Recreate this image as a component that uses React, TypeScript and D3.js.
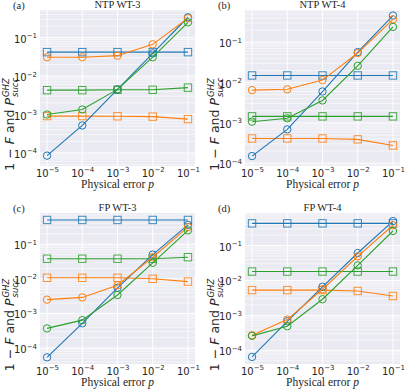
import React from 'react';
import * as d3 from 'd3';

const width = 407;
const height = 392;

const errorRates = [1e-5, 1e-4, 1e-3, 1e-2, 1e-1];
const xTickExps = [-5, -4, -3, -2, -1];

const seriesColors = ['#1f77b4', '#ff7f0e', '#2ca02c'];

// (a) NTP WT-3
const infidBlueA = [8.5e-5, 5.2e-4, 4.5e-3, 3.9e-2, 0.34];
const infidOrangeA = [3.1e-2, 3.1e-2, 3.4e-2, 6.7e-2, 0.32];
const infidGreenA = [1.0e-3, 1.35e-3, 4.5e-3, 3.1e-2, 0.25];
const succBlueA = [4.2e-2, 4.2e-2, 4.2e-2, 4.2e-2, 4.2e-2];
const succOrangeA = [9.1e-4, 9.1e-4, 9.0e-4, 8.8e-4, 7.6e-4];
const succGreenA = [4.3e-3, 4.3e-3, 4.4e-3, 4.4e-3, 5.0e-3];

// (b) NTP WT-4
const infidBlueB = [1.5e-4, 6.9e-4, 6.0e-3, 5.7e-2, 0.46];
const infidOrangeB = [6.5e-3, 6.8e-3, 1.15e-2, 5.4e-2, 0.37];
const infidGreenB = [1.07e-3, 1.3e-3, 3.6e-3, 2.6e-2, 0.24];
const succBlueB = [1.5e-2, 1.5e-2, 1.5e-2, 1.5e-2, 1.5e-2];
const succOrangeB = [4.1e-4, 4.1e-4, 4.1e-4, 3.9e-4, 2.75e-4];
const succGreenB = [1.45e-3, 1.45e-3, 1.45e-3, 1.45e-3, 1.45e-3];

// (c) FP WT-3
const infidBlueC = [5.4e-5, 5.2e-4, 5.5e-3, 5.0e-2, 0.36];
const infidOrangeC = [2.5e-3, 2.9e-3, 6.5e-3, 4.2e-2, 0.31];
const infidGreenC = [3.7e-4, 6.4e-4, 3.4e-3, 2.9e-2, 0.25];
const succBlueC = [0.5, 0.5, 0.5, 0.5, 0.5];
const succOrangeC = [1.07e-2, 1.07e-2, 1.07e-2, 1.0e-2, 8.3e-3];
const succGreenC = [3.8e-2, 3.8e-2, 3.8e-2, 3.8e-2, 4.2e-2];

// (d) FP WT-4
const infidBlueD = [6.5e-5, 6.8e-4, 6.6e-3, 6.1e-2, 0.5];
const infidOrangeD = [2.7e-4, 7.6e-4, 5.6e-3, 4.9e-2, 0.38];
const infidGreenD = [2.6e-4, 4.9e-4, 2.9e-3, 2.7e-2, 0.26];
const succBlueD = [0.43, 0.43, 0.43, 0.43, 0.43];
const succOrangeD = [5.3e-3, 5.3e-3, 5.3e-3, 5.0e-3, 3.6e-3];
const succGreenD = [1.8e-2, 1.8e-2, 1.8e-2, 1.8e-2, 1.8e-2];

const panelTitles = ['NTP WT-3', 'NTP WT-4', 'FP WT-3', 'FP WT-4'];
const panelLetters = ['(a)', '(b)', '(c)', '(d)'];
// y-limits as decade exponents
const yLims = [[-4.34, -0.28], [-4.07, -0.2], [-4.46, -0.1], [-4.39, -0.07]];

const panels = [
  { infid: [infidBlueA, infidOrangeA, infidGreenA], succ: [succBlueA, succOrangeA, succGreenA] },
  { infid: [infidBlueB, infidOrangeB, infidGreenB], succ: [succBlueB, succOrangeB, succGreenB] },
  { infid: [infidBlueC, infidOrangeC, infidGreenC], succ: [succBlueC, succOrangeC, succGreenC] },
  { infid: [infidBlueD, infidOrangeD, infidGreenD], succ: [succBlueD, succOrangeD, succGreenD] },
];

const boxes = [
  { x0: 40, x1: 195, y0: 10, y1: 166 },
  { x0: 245, x1: 400, y0: 10, y1: 166 },
  { x0: 40, x1: 195, y0: 213, y1: 364 },
  { x0: 245, x1: 400, y0: 213, y1: 364 },
];

const sans = 'DejaVu Sans, sans-serif';
const serif = 'Liberation Serif, serif';
const ink = '#262626';

function Panel({ i }: { i: number }) {
  const box = boxes[i];
  const [lo, hi] = yLims[i];
  const x = d3.scaleLog().domain([Math.pow(10, -5.2), Math.pow(10, -0.8)]).range([box.x0, box.x1]);
  const y = d3.scaleLog().domain([Math.pow(10, lo), Math.pow(10, hi)]).range([box.y1, box.y0]);

  // major decades + minor 2..9 gridlines inside the y range
  const majors: number[] = [];
  const minors: number[] = [];
  for (let e = Math.floor(lo); e <= Math.ceil(hi); e++) {
    const base = Math.pow(10, e);
    if (e >= lo && e <= hi) majors.push(e);
    for (let m = 2; m <= 9; m++) {
      const v = Math.log10(m * base);
      if (v > lo && v < hi) minors.push(m * base);
    }
  }

  const line = d3.line<number>().x((_, k) => x(errorRates[k])).y(d => y(d));
  const midY = (box.y0 + box.y1) / 2;

  return (
    <g>
      <rect x={box.x0} y={box.y0} width={box.x1 - box.x0} height={box.y1 - box.y0} fill="#eaeaf2" />
      {minors.map((v, k) => (
        <line key={'mn' + k} x1={box.x0} x2={box.x1} y1={y(v)} y2={y(v)} stroke="#fff" strokeWidth={0.6} />
      ))}
      {majors.map(e => (
        <line key={'mj' + e} x1={box.x0} x2={box.x1} y1={y(Math.pow(10, e))} y2={y(Math.pow(10, e))} stroke="#fff" strokeWidth={1} />
      ))}
      {errorRates.map((v, k) => (
        <line key={'vx' + k} x1={x(v)} x2={x(v)} y1={box.y0} y2={box.y1} stroke="#fff" strokeWidth={1} />
      ))}

      {/* y tick labels */}
      {majors.map(e => (
        <text key={'yt' + e} x={box.x0 - 3} y={y(Math.pow(10, e)) + 5} textAnchor="end" fontFamily={sans} fontSize={10} fill={ink}>
          10<tspan fontSize={7} dy={-4.5}>{'\u2212' + Math.abs(e)}</tspan>
        </text>
      ))}
      {/* x tick labels */}
      {xTickExps.map((e, k) => (
        <text key={'xt' + k} x={x(errorRates[k]) + 0.5} y={box.y1 + 10.5} textAnchor="middle" fontFamily={sans} fontSize={10} fill={ink}>
          10<tspan fontSize={7} dy={-4.5}>{'\u2212' + Math.abs(e)}</tspan>
        </text>
      ))}

      {/* success-probability series (squares) */}
      {panels[i].succ.map((vals, s) => (
        <g key={'s' + s}>
          <path d={line(vals) || ''} fill="none" stroke={seriesColors[s]} strokeWidth={1.1} />
          {vals.map((v, k) => (
            <rect key={k} x={x(errorRates[k]) - 3.7} y={y(v) - 3.7} width={7.4} height={7.4} fill="none"
              stroke={seriesColors[s]} strokeWidth={1} opacity={0.85} />
          ))}
        </g>
      ))}
      {/* infidelity series (circles) */}
      {panels[i].infid.map((vals, s) => (
        <g key={'c' + s}>
          <path d={line(vals) || ''} fill="none" stroke={seriesColors[s]} strokeWidth={1.1} />
          {vals.map((v, k) => (
            <circle key={k} cx={x(errorRates[k])} cy={y(v)} r={3.7} fill="none" stroke={seriesColors[s]} strokeWidth={1} />
          ))}
        </g>
      ))}

      <text x={(box.x0 + box.x1) / 2} y={box.y0 - 2} textAnchor="middle" fontFamily={serif} fontSize={10.5} fill={ink}>
        {panelTitles[i]}
      </text>
      <text x={box.x0 - 27} y={box.y0 - 1} fontFamily={serif} fontSize={10.5} fill={ink}>
        {panelLetters[i]}
      </text>
      <text x={(box.x0 + box.x1) / 2} y={box.y1 + 21.5} textAnchor="middle" fontFamily={serif} fontSize={11.5} fill={ink}>
        Physical error <tspan fontStyle="italic">p</tspan>
      </text>

      {/* y label, stacked sup/sub on P */}
      <g transform={`translate(${box.x0 - 26},${midY + 10}) rotate(-90)`}>
        <text x={0} y={0} textAnchor="end" fontFamily={sans} fontSize={12.5} fill={ink}>
          1 {'\u2212'} <tspan fontStyle="italic">F</tspan> and <tspan fontStyle="italic">P</tspan>
        </text>
        <text x={1} y={-5.5} fontFamily={sans} fontSize={8.5} fontStyle="italic" fill={ink}>GHZ</text>
        <text x={1} y={3.5} fontFamily={sans} fontSize={8.5} fontStyle="italic" fill={ink}>succ</text>
      </g>
    </g>
  );
}

export default function App() {
  return (
    <svg width={width} height={height} style={{ position: 'absolute', left: 0, top: 0, background: '#fff' }}>
      {[0, 1, 2, 3].map(i => (
        <Panel key={i} i={i} />
      ))}
    </svg>
  );
}
